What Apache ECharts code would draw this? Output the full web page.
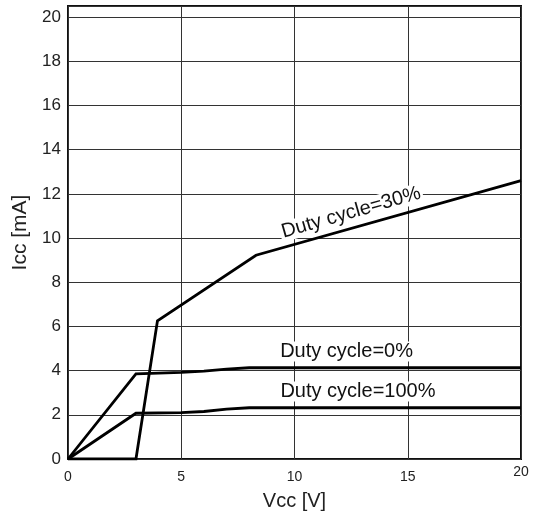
<!DOCTYPE html>
<html>
<head>
<meta charset="utf-8">
<script src="https://cdn.jsdelivr.net/npm/echarts@6/dist/echarts.min.js"></script>
<style>
html,body{margin:0;padding:0;background:#fff;}
#c{width:536px;height:516px;}
</style>
</head>
<body>
<div id="c"></div>
<script>
// Data
const duty30X = [0, 3, 3.95, 8.3, 20];
const duty30Y = [0, 0, 6.25, 9.22, 12.6];
const duty0X = [0, 3, 5, 6, 7, 8, 20];
const duty0Y = [0, 3.85, 3.92, 3.98, 4.07, 4.13, 4.13];
const duty100X = [0, 3, 5, 6, 7, 8, 20];
const duty100Y = [0, 2.07, 2.1, 2.15, 2.26, 2.32, 2.32];
const seriesNames = ['Duty cycle=30%', 'Duty cycle=0%', 'Duty cycle=100%'];
const labelAnchors = [[12.5, 11.15], [12.3, 4.86], [12.8, 3.05]];
const labelAngles = [16, 0, 0];
const xTicks = [0, 5, 10, 15, 20];
const yTicks = [0, 2, 4, 6, 8, 10, 12, 14, 16, 18, 20];

const FONT = '"Liberation Sans", Arial, sans-serif';
const pairs = (xs, ys) => xs.map((x, i) => [x, ys[i]]);
const allData = [pairs(duty30X, duty30Y), pairs(duty0X, duty0Y), pairs(duty100X, duty100Y)];

const chart = echarts.init(document.getElementById('c'), null, {renderer: 'canvas'});
chart.setOption({
  animation: false,
  backgroundColor: '#fff',
  grid: {left: 68, right: 15, top: 6, bottom: 55, show: true, borderColor: '#111', borderWidth: 2, backgroundColor: 'transparent'},
  xAxis: {
    type: 'value', min: 0, max: 20, interval: 5,
    name: 'Vcc [V]', nameLocation: 'middle', nameGap: 32,
    nameTextStyle: {fontFamily: FONT, fontSize: 20, color: '#222'},
    axisLine: {show: false}, axisTick: {show: false},
    splitLine: {show: true, lineStyle: {color: '#333', width: 1}},
    axisLabel: {
      fontFamily: FONT, fontSize: 14, color: '#222', margin: 11,
      formatter: v => (xTicks.includes(v) ? (v === 20 ? '{r|20}' : String(v)) : ''),
      rich: {r: {fontFamily: FONT, fontSize: 14, color: '#222', lineHeight: 4}}
    }
  },
  yAxis: {
    type: 'value', min: 0, max: 20.5, interval: 2,
    name: 'Icc [mA]', nameLocation: 'middle', nameGap: 34, nameRotate: 90,
    nameTextStyle: {fontFamily: FONT, fontSize: 21, color: '#222'},
    axisLine: {show: false}, axisTick: {show: false},
    splitLine: {show: true, lineStyle: {color: '#333', width: 1}},
    axisLabel: {
      fontFamily: FONT, fontSize: 17, color: '#222', margin: 7, showMaxLabel: false,
      formatter: v => (yTicks.includes(v) ? String(v) : '')
    }
  },
  series: allData.map((d, i) => ({
    type: 'line', name: seriesNames[i], data: d,
    symbol: 'none', silent: true,
    lineStyle: {color: '#000', width: 2.8, join: 'miter'},
    markPoint: {
      silent: true, symbol: 'circle', symbolSize: 1,
      itemStyle: {color: 'rgba(0,0,0,0)'},
      data: [{coord: labelAnchors[i], value: seriesNames[i]}],
      label: {
        show: true, position: 'inside', formatter: seriesNames[i],
        rotate: labelAngles[i], fontFamily: FONT, fontSize: 20, color: '#111',
        backgroundColor: '#fff', padding: [0, 2, 0, 2]
      }
    }
  }))
});
</script>
</body>
</html>
